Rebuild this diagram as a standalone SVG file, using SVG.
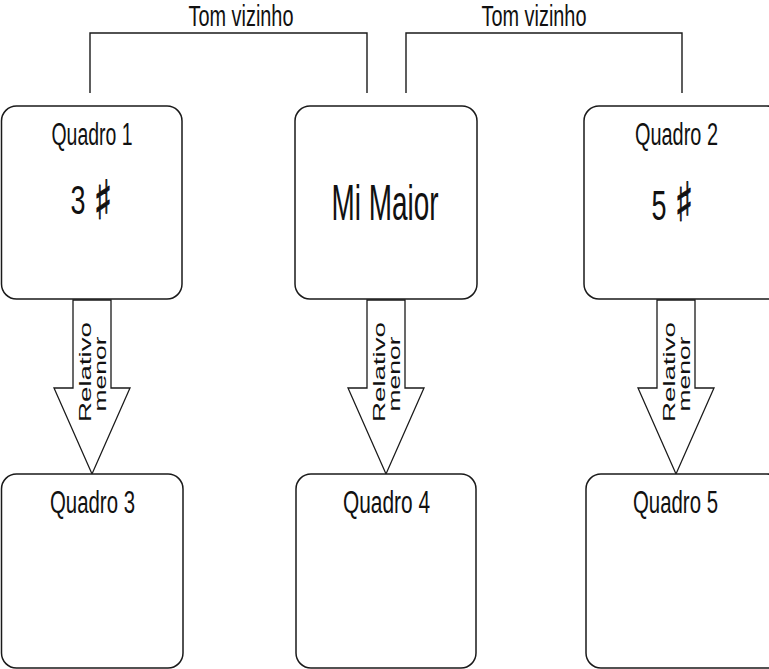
<svg xmlns="http://www.w3.org/2000/svg" width="769" height="669" viewBox="0 0 769 669">
<style>
.box{fill:#fff;stroke:#1a1a1a;stroke-width:1.5}
.line{fill:none;stroke:#1a1a1a;stroke-width:1.4}
.arrow{fill:#fff;stroke:#1a1a1a;stroke-width:1.3;stroke-linejoin:miter}
.t{font-family:"Liberation Sans",Arial,sans-serif;fill:#111;text-anchor:middle}
.lab{font-size:31px}
.top{font-size:29px}
.rel{font-size:17px}
.sharp{font-family:"DejaVu Sans",sans-serif;fill:#111;stroke:#111;stroke-width:0.9;text-anchor:middle;font-size:54px}
</style>
<rect width="769" height="669" fill="#fff"/>
<g id="connectors">
  <polyline class="line" points="90,93 90,33 367,33 367,93"/>
  <polyline class="line" points="406,93 406,33 682,33 682,93"/>
  <text class="t top" x="241" y="26" textLength="105" lengthAdjust="spacingAndGlyphs">Tom vizinho</text>
  <text class="t top" x="534" y="26" textLength="105" lengthAdjust="spacingAndGlyphs">Tom vizinho</text>
  <g id="arrow1">
    <polygon class="arrow" points="73,300 111,300 111,388 130,388 92,474 54,388 73,388"/>
    <text class="t rel" transform="translate(91,372) rotate(-90)" textLength="100" lengthAdjust="spacingAndGlyphs">Relativo</text>
    <text class="t rel" transform="translate(106,374) rotate(-90)" textLength="75" lengthAdjust="spacingAndGlyphs">menor</text>
  </g>
  <g id="arrow2">
    <polygon class="arrow" points="367,300 405,300 405,388 424,388 386,474 348,388 367,388"/>
    <text class="t rel" transform="translate(385,372) rotate(-90)" textLength="100" lengthAdjust="spacingAndGlyphs">Relativo</text>
    <text class="t rel" transform="translate(400,374) rotate(-90)" textLength="75" lengthAdjust="spacingAndGlyphs">menor</text>
  </g>
  <g id="arrow3">
    <polygon class="arrow" points="657,300 695,300 695,388 714,388 676,474 638,388 657,388"/>
    <text class="t rel" transform="translate(675,372) rotate(-90)" textLength="100" lengthAdjust="spacingAndGlyphs">Relativo</text>
    <text class="t rel" transform="translate(690,374) rotate(-90)" textLength="75" lengthAdjust="spacingAndGlyphs">menor</text>
  </g>
</g>
<g id="quadro1">
  <rect class="box" x="1.5" y="106" width="180.5" height="193" rx="15"/>
  <text class="t lab" x="92" y="145" textLength="81" lengthAdjust="spacingAndGlyphs">Quadro 1</text>
  <text class="t" x="78" y="214" font-size="40" textLength="15" lengthAdjust="spacingAndGlyphs">3</text>
  <text class="sharp" x="103" y="219" textLength="19" lengthAdjust="spacingAndGlyphs">♯</text>
</g>
<g id="mimaior">
  <rect class="box" x="295" y="106" width="182" height="193" rx="15"/>
  <text class="t" x="385" y="220" font-size="50" textLength="107" lengthAdjust="spacingAndGlyphs">Mi Maior</text>
</g>
<g id="quadro2">
  <rect class="box" x="584" y="106" width="198" height="193" rx="15"/>
  <text class="t lab" x="676.5" y="145" textLength="83" lengthAdjust="spacingAndGlyphs">Quadro 2</text>
  <text class="t" x="659" y="220" font-size="43" textLength="15" lengthAdjust="spacingAndGlyphs">5</text>
  <text class="sharp" x="684" y="221" textLength="19" lengthAdjust="spacingAndGlyphs">♯</text>
</g>
<g id="quadro3">
  <rect class="box" x="1.5" y="474" width="181.5" height="194" rx="15"/>
  <text class="t lab" x="92.5" y="513" textLength="85" lengthAdjust="spacingAndGlyphs">Quadro 3</text>
</g>
<g id="quadro4">
  <rect class="box" x="296" y="474" width="180" height="194" rx="15"/>
  <text class="t lab" x="386.5" y="513" textLength="87" lengthAdjust="spacingAndGlyphs">Quadro 4</text>
</g>
<g id="quadro5">
  <rect class="box" x="586" y="474" width="196" height="194" rx="15"/>
  <text class="t lab" x="675.5" y="513" textLength="85" lengthAdjust="spacingAndGlyphs">Quadro 5</text>
</g>
</svg>
